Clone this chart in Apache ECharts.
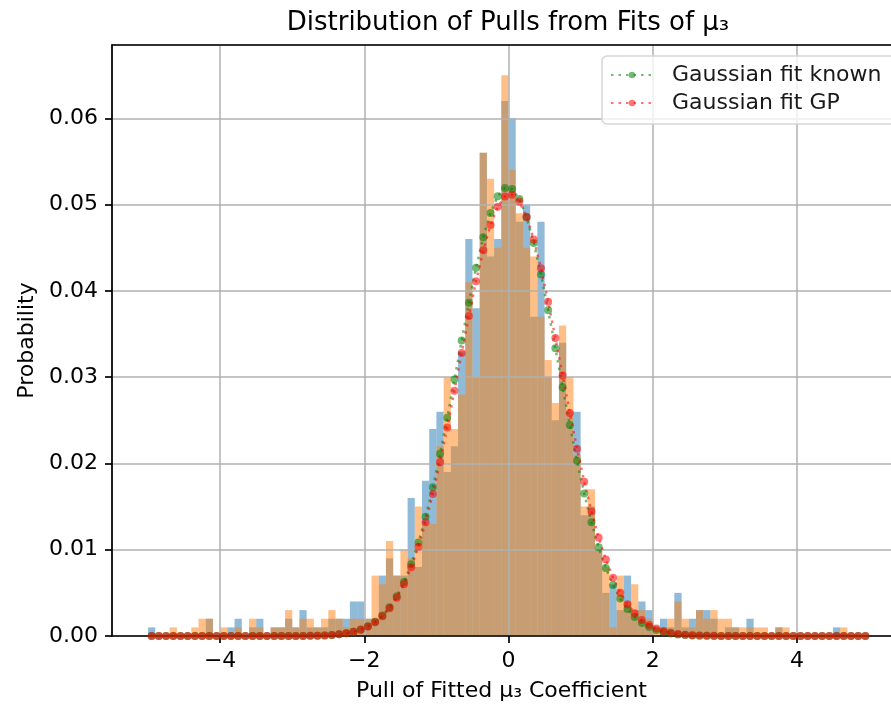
<!DOCTYPE html>
<html>
<head>
<meta charset="utf-8">
<title>Distribution of Pulls</title>
<script src="https://cdn.jsdelivr.net/npm/echarts/dist/echarts.min.js"></script>
<style>
html, body { margin: 0; padding: 0; background: #fff; }
#chart { width: 891px; height: 705px; }
</style>
</head>
<body>
<div id="chart"></div>
<script>
// histogram bins: 100 bins of width 0.1 from -5 to 5
var binStart = -5.0;
var binWidth = 0.1;

// blue histogram (pulls, known)
var pullsKnown = [
  0.001, 0, 0, 0, 0, 0, 0, 0, 0.002, 0,
  0, 0.001, 0.002, 0, 0.001, 0.002, 0, 0.001, 0.001, 0.002,
  0.001, 0.003, 0.001, 0.001, 0.001, 0.002, 0.002, 0.002, 0.004, 0.004,
  0.002, 0.002, 0.007, 0.009, 0.007, 0.007, 0.016, 0.008, 0.018, 0.024,
  0.026, 0.019, 0.022, 0.033, 0.046, 0.038, 0.056, 0.044, 0.046, 0.062,
  0.060, 0.048, 0.050, 0.037, 0.048, 0.030, 0.025, 0.034, 0.026, 0.026,
  0.014, 0.015, 0.010, 0.005, 0.006, 0.003, 0.007, 0.003, 0.004, 0.003,
  0, 0.002, 0.001, 0.005, 0.001, 0.002, 0.003, 0.003, 0.002, 0,
  0.001, 0.001, 0, 0.002, 0, 0, 0, 0.001, 0, 0,
  0, 0, 0, 0, 0, 0.001, 0, 0, 0, 0
];

// orange histogram (pulls, GP)
var pullsGP = [
  0, 0, 0, 0.001, 0, 0, 0.001, 0.002, 0.002, 0,
  0.001, 0, 0.001, 0, 0.002, 0.001, 0, 0.001, 0.001, 0.003,
  0.001, 0.002, 0.002, 0.001, 0.002, 0.003, 0.002, 0.001, 0.002, 0.002,
  0.002, 0.007, 0.006, 0.011, 0.007, 0.010, 0.009, 0.015, 0.013, 0.013,
  0.022, 0.030, 0.024, 0.028, 0.041, 0.030, 0.056, 0.053, 0.045, 0.065,
  0.054, 0.049, 0.045, 0.044, 0.037, 0.032, 0.027, 0.036, 0.030, 0.021,
  0.015, 0.017, 0.010, 0.008, 0.001, 0.007, 0.004, 0.006, 0.003, 0.002,
  0.001, 0.001, 0.002, 0.004, 0.002, 0.001, 0.003, 0.002, 0.003, 0.002,
  0.002, 0.001, 0.001, 0.001, 0.001, 0.001, 0, 0.001, 0.001, 0,
  0, 0, 0, 0, 0, 0, 0.001, 0, 0, 0
];

// gaussian fit evaluated at bin centres (green)
var fitKnown = [
  0, 0, 0, 0, 0, 0, 0, 0, 0, 0,
  0, 0, 0, 0, 0, 0, 0, 0, 0, 0,
  0.00001, 0.00001, 0.00002, 0.00004, 0.00007, 0.00012, 0.00020, 0.00031, 0.00049, 0.00074,
  0.00112, 0.00164, 0.00237, 0.00334, 0.00462, 0.00627, 0.00832, 0.01083, 0.01381, 0.01725,
  0.02111, 0.02531, 0.02974, 0.03424, 0.03862, 0.04268, 0.04621, 0.04903, 0.05097, 0.05192,
  0.05181, 0.05066, 0.04853, 0.04556, 0.04190, 0.03776, 0.03334, 0.02884, 0.02445, 0.02030,
  0.01652, 0.01317, 0.01029, 0.00788, 0.00591, 0.00434, 0.00313, 0.00221, 0.00152, 0.00103,
  0.00068, 0.00045, 0.00028, 0.00018, 0.00011, 0.00006, 0.00004, 0.00002, 0.00001, 0.00001,
  0, 0, 0, 0, 0, 0, 0, 0, 0, 0,
  0, 0, 0, 0, 0, 0, 0, 0, 0, 0
];

// gaussian fit evaluated at bin centres (red)
var fitGP = [
  0, 0, 0, 0, 0, 0, 0, 0, 0, 0,
  0, 0, 0, 0, 0, 0, 0, 0, 0, 0,
  0.00001, 0.00001, 0.00003, 0.00004, 0.00007, 0.00012, 0.00019, 0.00031, 0.00048, 0.00073,
  0.00109, 0.00160, 0.00229, 0.00322, 0.00444, 0.00600, 0.00796, 0.01034, 0.01317, 0.01645,
  0.02014, 0.02417, 0.02844, 0.03280, 0.03710, 0.04113, 0.04470, 0.04763, 0.04975, 0.05095,
  0.05115, 0.05035, 0.04858, 0.04596, 0.04262, 0.03875, 0.03454, 0.03018, 0.02585, 0.02171,
  0.01788, 0.01443, 0.01142, 0.00886, 0.00674, 0.00502, 0.00367, 0.00263, 0.00185, 0.00127,
  0.00086, 0.00057, 0.00037, 0.00023, 0.00015, 0.00009, 0.00005, 0.00003, 0.00002, 0.00001,
  0, 0, 0, 0, 0, 0, 0, 0, 0, 0,
  0, 0, 0, 0, 0, 0, 0, 0, 0, 0
];

var FONT = 'DejaVu Sans';

// build [left, right, height] rows and [centre, value] points
function histRows(vals) {
  var rows = [];
  for (var i = 0; i < vals.length; i++) {
    var x0 = binStart + i * binWidth;
    rows.push([x0, x0 + binWidth, vals[i]]);
  }
  return rows;
}
function fitPoints(vals) {
  var pts = [];
  for (var i = 0; i < vals.length; i++) {
    pts.push([binStart + (i + 0.5) * binWidth, vals[i]]);
  }
  return pts;
}

function renderBar(color) {
  return function (params, api) {
    var p0 = api.coord([api.value(0), api.value(2)]);
    var p1 = api.coord([api.value(1), 0]);
    return {
      type: 'rect',
      shape: { x: p0[0], y: p0[1], width: p1[0] - p0[0], height: p1[1] - p0[1] },
      style: { fill: color, opacity: 0.5 }
    };
  };
}

function minus(v) {
  return v < 0 ? '\u2212' + Math.abs(v) : String(v);
}

var chart = echarts.init(document.getElementById('chart'), null, { renderer: 'canvas' });

var option = {
  animation: false,
  backgroundColor: '#fff',
  title: {
    text: 'Distribution of Pulls from Fits of \u03bc\u2083',
    left: 508, top: 10, textAlign: 'center', padding: 0,
    textStyle: { fontFamily: FONT, fontSize: 26, fontWeight: 'normal', color: '#000' }
  },
  // right part of the axes is cut off by the picture edge
  grid: { left: 112, top: 45, right: 0, height: 591, outerBoundsMode: 'none', containLabel: false },
  legend: {
    orient: 'vertical', left: 602, top: 56, z: 10,
    itemWidth: 42, itemHeight: 8, itemGap: 6,
    padding: [8, 20, 10, 8],
    backgroundColor: 'rgba(255,255,255,0.8)',
    borderColor: '#d6d6d6', borderWidth: 1.5, borderRadius: 5,
    textStyle: { fontFamily: FONT, fontSize: 22, color: '#1a1a1a', padding: [0, 0, 0, 14] },
    data: ['Gaussian fit known', 'Gaussian fit GP']
  },
  xAxis: [{
    type: 'value', min: -5.5, max: 5.305, z: 3,
    name: 'Pull of Fitted \u03bc\u2083 Coefficient',
    nameLocation: 'middle', nameGap: 44,
    nameTextStyle: { fontFamily: FONT, fontSize: 22, color: '#000' },
    axisLine: { onZero: false, lineStyle: { color: '#000', width: 1.7 } },
    axisTick: { show: true, length: 7, lineStyle: { color: '#000', width: 1.7 } },
    axisLabel: {
      margin: 14, fontFamily: FONT, fontSize: 22, color: '#000',
      showMinLabel: false, showMaxLabel: false, formatter: minus
    },
    splitLine: { show: true, showMaxLine: false, lineStyle: { color: '#b0b0b0', width: 1.5 } }
  }, {
    // top spine
    type: 'value', position: 'top', min: -5.5, max: 5.305, z: 3,
    axisLine: { onZero: false, lineStyle: { color: '#000', width: 1.7 } },
    axisTick: { show: false }, axisLabel: { show: false }, splitLine: { show: false }
  }],
  yAxis: {
    type: 'value', min: 0, max: 0.0685, interval: 0.01, z: 3,
    name: 'Probability',
    nameLocation: 'middle', nameGap: 72, nameRotate: 90,
    nameTextStyle: { fontFamily: FONT, fontSize: 22, color: '#000' },
    axisLine: { show: true, onZero: false, lineStyle: { color: '#000', width: 1.7 } },
    axisTick: { show: true, length: 7, lineStyle: { color: '#000', width: 1.7 } },
    axisLabel: {
      margin: 14, fontFamily: FONT, fontSize: 22, color: '#000',
      showMaxLabel: false,
      formatter: function (v) { return v.toFixed(2); }
    },
    splitLine: { show: true, lineStyle: { color: '#b0b0b0', width: 1.5 } }
  },
  series: [
    {
      name: 'pulls known', type: 'custom', z: 1,
      renderItem: renderBar('#1f77b4'),
      encode: { x: [0, 1], y: 2 },
      data: histRows(pullsKnown)
    },
    {
      name: 'pulls GP', type: 'custom', z: 1,
      renderItem: renderBar('#ff7f0e'),
      encode: { x: [0, 1], y: 2 },
      data: histRows(pullsGP)
    },
    {
      name: 'Gaussian fit known', type: 'line', z: 5,
      data: fitPoints(fitKnown),
      symbol: 'circle', symbolSize: 8, showSymbol: true,
      itemStyle: { color: 'rgba(0,128,0,0.55)' },
      lineStyle: { color: 'rgba(0,128,0,0.55)', width: 2.5, type: [2.5, 5] }
    },
    {
      name: 'Gaussian fit GP', type: 'line', z: 6,
      data: fitPoints(fitGP),
      symbol: 'circle', symbolSize: 8, showSymbol: true,
      itemStyle: { color: 'rgba(255,0,0,0.55)' },
      lineStyle: { color: 'rgba(255,0,0,0.55)', width: 2.5, type: [2.5, 5] }
    }
  ]
};

chart.setOption(option);
</script>
</body>
</html>
